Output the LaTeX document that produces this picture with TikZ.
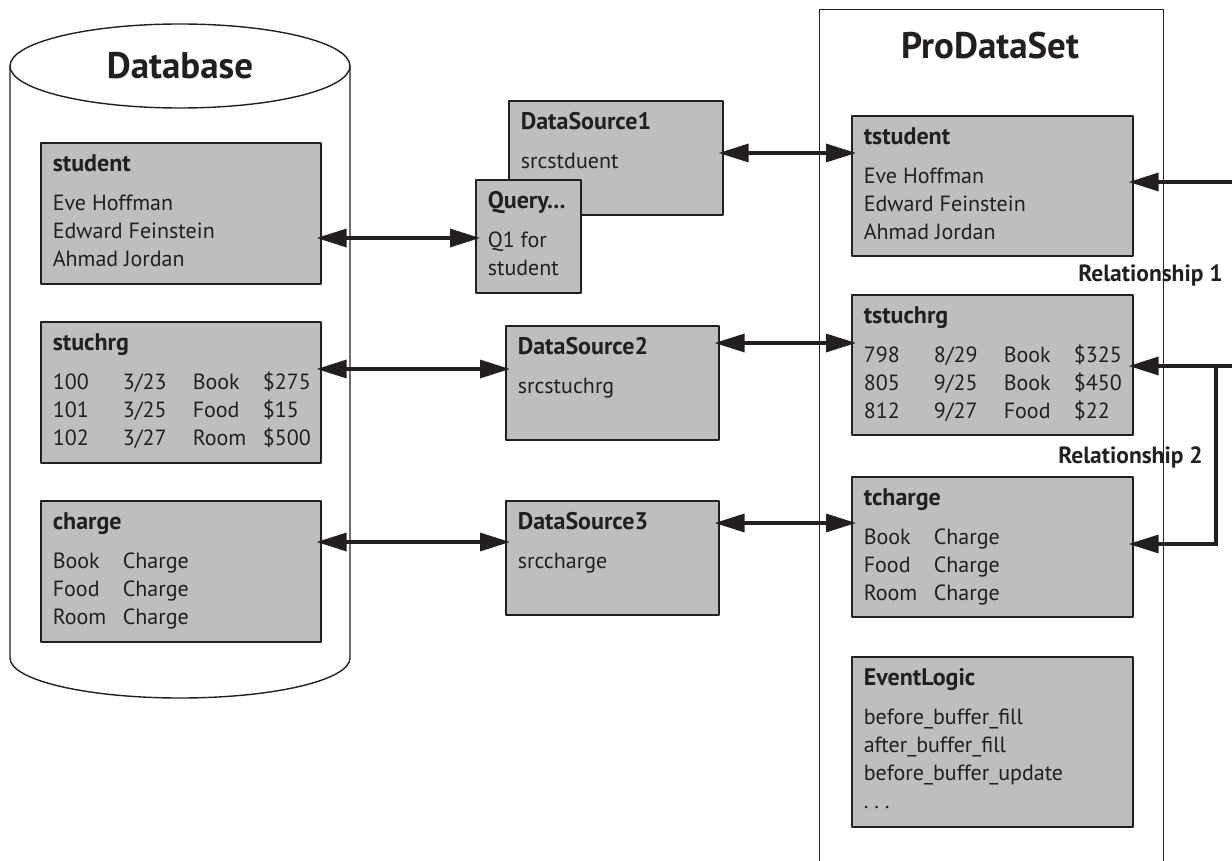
\documentclass[tikz,border=0pt]{standalone}
\usepackage{fontspec}
\setmainfont{PT Sans}
\usetikzlibrary{arrows.meta,positioning}
\definecolor{boxgray}{RGB}{188,190,192}
\definecolor{ink}{RGB}{35,31,32}
% one column of a table row
\newcommand{\col}[1]{\makebox[70pt][l]{#1}}
% title line of a table box
\newcommand{\ttl}[1]{{\fontsize{24}{28}\selectfont\bfseries #1}}
% text block of a table box: width, height, text
\newcommand{\tbltext}[3]{\parbox[t][#2][t]{#1}{\rule{0pt}{29pt}#3}}
\begin{document}
\begin{tikzpicture}[x=1pt,y=-1pt,line join=round,color=ink,
  >={Triangle[length=30pt,width=18pt]},
  tbl/.style={draw,fill=boxgray,line width=1.6pt,anchor=north west,
    inner xsep=12pt,inner ysep=0pt,font=\fontsize{22}{28}\selectfont},
  head/.style={font=\fontsize{37}{44}\selectfont\bfseries},
  rel/.style={anchor=base east,inner sep=0pt,font=\fontsize{23.5}{28}\selectfont\bfseries},
  link/.style={<->,line width=3.2pt,shorten <=-5pt,shorten >=-5pt},
  tie/.style={->,line width=3.2pt,shorten >=-5pt,line join=miter}]
\useasboundingbox (0,0) rectangle (1232,861);

% Database cylinder
\draw[line width=1.4pt] (10,66) -- (10,658) arc (180:0:170 and 40) -- (350,66);
\draw[line width=1.4pt,fill=white] (180,66) ellipse (170 and 42);
\node[head] (dbtitle) at (180,66) {Database};

% ProDataSet frame
\node[draw,line width=1.4pt,anchor=north west,minimum width=344,minimum height=880] (pds) at (819,9) {};
\node[head] (pdstitle) at (990,46) {ProDataSet};

% database tables
\node[tbl] (student) at (40,142) {\tbltext{256pt}{141pt}{%
  \ttl{student}\\[11pt]
  Eve Hoffman\\
  Edward Feinstein\\
  Ahmad Jordan}};
\node[tbl] (stuchrg) at (40,321) {\tbltext{256pt}{141pt}{%
  \ttl{stuchrg}\\[11pt]
  \col{100}\col{3/23}\col{Book}\$275\\
  \col{101}\col{3/25}\col{Food}\$15\\
  \col{102}\col{3/27}\col{Room}\$500}};
\node[tbl] (charge) at (40,500) {\tbltext{256pt}{141pt}{%
  \ttl{charge}\\[11pt]
  \col{Book}Charge\\
  \col{Food}Charge\\
  \col{Room}Charge}};

% data sources
\node[tbl] (ds1) at (508,100) {\tbltext{190pt}{114pt}{%
  \ttl{DataSource1}\\[11pt]
  srcstduent}};
\node[tbl] (query) at (475,179) {\tbltext{81pt}{113pt}{%
  \ttl{Query...}\\[11pt]
  Q1 for\\
  student}};
\node[tbl] (ds2) at (505,325) {\tbltext{189pt}{114pt}{%
  \ttl{DataSource2}\\[11pt]
  srcstuchrg}};
\node[tbl] (ds3) at (505,500) {\tbltext{189pt}{114pt}{%
  \ttl{DataSource3}\\[11pt]
  srccharge}};

% ProDataSet tables
\node[tbl] (tstudent) at (851,115) {\tbltext{257pt}{140pt}{%
  \ttl{tstudent}\\[11pt]
  Eve Hoffman\\
  Edward Feinstein\\
  Ahmad Jordan}};
\node[tbl] (tstuchrg) at (851,294) {\tbltext{257pt}{140pt}{%
  \ttl{tstuchrg}\\[11pt]
  \col{798}\col{8/29}\col{Book}\$325\\
  \col{805}\col{9/25}\col{Book}\$450\\
  \col{812}\col{9/27}\col{Food}\$22}};
\node[tbl] (tcharge) at (851,476) {\tbltext{257pt}{140pt}{%
  \ttl{tcharge}\\[11pt]
  \col{Book}Charge\\
  \col{Food}Charge\\
  \col{Room}Charge}};
\node[tbl] (events) at (851,656) {\tbltext{257pt}{170pt}{%
  \ttl{EventLogic}\\[11pt]
  before\_buffer\_fill\\
  after\_buffer\_fill\\
  before\_buffer\_update\\
  .\ .\ .}};

\node[rel] (rel1lbl) at (1223,282) {Relationship 1};
\node[rel] (rel2lbl) at (1203,463) {Relationship 2};

% heights of the connectors
\coordinate (yq) at (0,238);
\coordinate (ya) at (0,153);
\coordinate (yb) at (0,369);
\coordinate (yc) at (0,343);
\coordinate (yd) at (0,542);
\coordinate (ye) at (0,523);
\coordinate (yf) at (0,544);

\draw[link] (student.east |- yq) -- (query.west |- yq);
\draw[link] (ds1.east |- ya) -- (tstudent.west |- ya);
\draw[link] (stuchrg.east |- yb) -- (ds2.west |- yb);
\draw[link] (ds2.east |- yc) -- (tstuchrg.west |- yc);
\draw[link] (charge.east |- yd) -- (ds3.west |- yd);
\draw[link] (ds3.east |- ye) -- (tcharge.west |- ye);

% relationships
\coordinate (rel1) at (1245,182);
\coordinate (rel2) at (1245,366);
\coordinate (bend) at (1216,366);
\draw[tie] (rel1) -- (tstudent.east |- rel1);
\draw[tie] (rel2) -- (tstuchrg.east |- rel2);
\draw[tie] (bend) |- (tcharge.east |- yf);
\end{tikzpicture}
\end{document}
